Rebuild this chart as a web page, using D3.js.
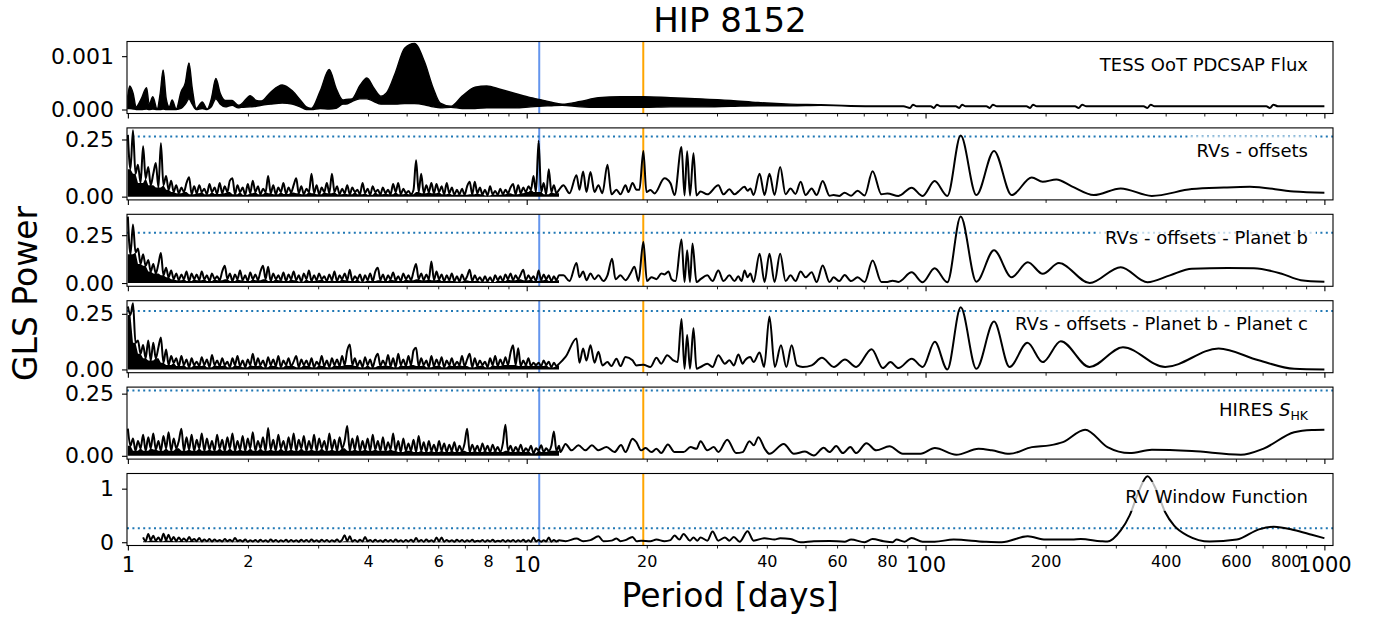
<!DOCTYPE html>
<html><head><meta charset="utf-8">
<script src="https://cdn.jsdelivr.net/npm/d3@7"></script>
<style>body{margin:0;background:#fff;} svg{display:block;font-family:"DejaVu Sans",sans-serif;}</style>
</head><body><svg id="c" width="1377" height="618"></svg>
<script>
// ---------------- DATA ----------------
const titleText = "HIP 8152";
const panelNames = ["TESS OoT PDCSAP Flux","RVs - offsets","RVs - offsets - Planet b","RVs - offsets - Planet b - Planet c","HIRES S_HK","RV Window Function"];
const planetPeriods = [10.75, 19.6];
const fapLevel = 0.263;
const majorTicks = [1,10,100,1000];
const minorTicks = [2,3,4,5,6,7,8,9,20,30,40,50,60,70,80,90,200,300,400,500,600,700,800,900];
const minorLabelled = [2,4,6,8,20,40,60,80,200,400,600,800];
const yTickValues = [[0,0.001],[0,0.25],[0,0.25],[0,0.25],[0,0.25],[0,1]];
const yTickLabels = [["0.000","0.001"],["0.00","0.25"],["0.00","0.25"],["0.00","0.25"],["0.00","0.25"],["0","1"]];

// TESS periodogram: dense part as envelope (upper / lower), then tail
const tessPeriods = [1.0,1.0105,1.031,1.049,1.08,1.114,1.131,1.155,1.184,1.205,1.226,1.248,1.27,1.291,1.322,1.359,1.393,1.423,1.45,1.484,1.536,1.581,1.619,1.662,1.705,1.754,1.826,1.892,1.925,2.027,2.098,2.16,2.277,2.437,2.584,2.705,2.8,2.883,3.037,3.198,3.327,3.462,3.522,3.646,3.818,3.975,4.14,4.31,4.45,4.69,4.94,5.23,5.54,5.83,6.07,6.46,6.89,7.42,7.94,8.57,9.35,10.24,10.74,11.45,12.28,13.62,15.13,17.18,19.62,22.94,27.28,32.5,38.0,45.87,54.6,65.0];
const tessUpper = [.00025,.00044,.0003,.00005,.0002,.00041,.0001,.00024,.00001,.0003,.00074,.0002,.00005,.00018,.00001,.00033,.0005,.000875,.0004,.00002,.00014,.00001,.0002,.00058,.0003,.00017,.00017,.00008,.0001,.00026,.00017,.00016,.00032,.00046,.00035,.00018,.00005,.00002,.00035,.00075,.0004,.00018,.00019,.0002,.00045,.00059,.0004,.00025,.00031,.0007,.00115,.00124,.0009,.0004,.00012,.00006,.00025,.00042,.00044,.00038,.0003,.00022,.00019,.00014,.0001,.00015,.00022,.00024,.00024,.00022,.0002,.00017,.00013,.0001,.00009,.00007];
const tessLower = [.00002,.00002,.00001,0,0,.00001,0,.00001,0,0,.00001,0,0,0,0,.00002,.0001,.0002,.0001,0,.00002,0,.00005,.0002,.0001,.00005,.00008,.00003,.00004,.00005,.00006,.00008,.0001,.00012,.0001,.00005,0,0,.00002,.00001,.00002,.0001,.0001,.00015,.0002,.0002,.00015,.0001,.0001,.0001,.00011,.00011,.00009,.00005,.00003,.00004,.00002,.00002,.00003,.00003,.00003,.00005,.00006,.00007,.00008,.00005,.00004,.00004,.00004,.00005,.00005,.00006,.00007,.00007,.00008,.00006];
const tessTail = [[65,.000065],[75,.00006],[88,.00006],[91.5,.00003],[93,.00009],[95,.00006],[103,.00006],[105,.00003],[106.8,.00009],[109,.00006],[119,.00006],[121.5,.00003],[123.5,.00009],[126,.00006],[142,.00006],[145,.00003],[147.5,.00009],[151,.00006],[179,.00006],[183,.00003],[186,.00009],[190,.00006],[237,.00006],[242,.00003],[247,.00009],[253,.00006],[352,.00006],[360,.00003],[367,.00009],[375,.00006],[715,.00006],[730,.00003],[745,.00009],[765,.00006],[1000,.00006]];

// shared period grid for the dense (short-period) part of the GLS periodograms
const noisePeriods = [1.00,1.015,1.03,1.045,1.06,1.076,1.092,1.108,1.125,1.141,
1.158,1.175,1.193,1.21,1.228,1.247,1.265,1.284,1.303,1.322,
1.342,1.362,1.382,1.403,1.424,1.445,1.466,1.488,1.51,1.532,
1.555,1.578,1.602,1.625,1.65,1.674,1.699,1.724,1.75,1.776,
1.802,1.829,1.856,1.883,1.911,1.94,1.969,1.998,2.027,2.057,
2.088,2.119,2.15,2.182,2.215,2.247,2.281,2.315,2.349,2.384,
2.419,2.455,2.492,2.529,2.566,2.604,2.643,2.682,2.722,2.762,
2.803,2.845,2.887,2.93,2.973,3.017,3.062,3.108,3.154,3.2,
3.248,3.296,3.345,3.395,3.445,3.496,3.548,3.601,3.654,3.708,
3.763,3.819,3.876,3.933,3.992,4.051,4.111,4.172,4.234,4.297,
4.36,4.425,4.491,4.557,4.625,4.693,4.763,4.834,4.905,4.978,
5.052,5.127,5.203,5.28,5.359,5.438,5.519,5.601,5.684,5.768,
5.854,5.941,6.029,6.118,6.209,6.301,6.395,6.49,6.586,6.684,
6.783,6.884,6.986,7.09,7.195,7.302,7.41,7.52,7.632,7.745,
7.86,7.977,8.095,8.215,8.337,8.461,8.587,8.714,8.844,8.975,
9.108,9.243,9.38,9.52,9.661,9.804,9.95,10.1,10.25,10.4,
10.55,10.71,10.87,11.03,11.19,11.36,11.53,11.7,11.87,12.05];

// RVs - offsets
const rvNoise = [.27,.12,.29,.10,.14,.06,.22,.08,.13,.05,
.10,.147,.04,.234,.05,.09,.03,.07,.02,.05,
.015,.04,.02,.06,.085,.01,.045,.015,.05,.02,
.035,.01,.055,.02,.04,.012,.06,.015,.045,.02,
.07,.08,.01,.05,.02,.04,.008,.055,.015,.07,
.02,.045,.01,.035,.02,.09,.015,.05,.01,.04,
.02,.06,.012,.04,.018,.05,.08,.015,.045,.01,
.035,.02,.10,.015,.05,.01,.04,.02,.06,.015,
.10,.02,.045,.01,.035,.015,.05,.01,.04,.02,
.03,.01,.06,.015,.035,.008,.045,.02,.03,.01,
.04,.015,.03,.01,.055,.02,.06,.01,.035,.015,
.025,.01,.03,.159,.02,.10,.015,.05,.02,.06,
.015,.055,.02,.045,.01,.06,.015,.04,.008,.03,
.01,.035,.008,.045,.065,.01,.065,.015,.04,.01,
.03,.005,.045,.01,.025,.008,.035,.01,.03,.015,
.04,.055,.01,.05,.015,.04,.02,.045,.03,.09,
.02,.245,.02,.06,.01,.12,.02,.05,.015,.03];
const rvTail = [[12.36,.05],[12.8,.015],[13.33,.094],[13.56,.03],[13.85,.11],[14.12,.02],[14.45,.108],[14.79,.02],[15.13,.05],[15.48,.015],[15.94,.14],[16.31,.01],[16.79,.03],[17.18,.01],[17.69,.05],[17.99,.02],[18.42,.06],[18.85,.03],[19.17,.03],[19.61,.20],[19.96,.02],[20.43,.029],[20.91,.014],[22.15,.08],[22.94,.058],[23.48,.007],[24.44,.217],[24.87,.005],[25.25,.198],[25.67,.005],[26.19,.19],[26.65,.005],[27.28,.022],[28.36,.01],[30.23,.05],[31.15,.01],[32.22,.032],[33.19,.01],[33.93,.022],[35.17,.043],[35.79,.026],[36.37,.036],[37.05,.007],[38.36,.10],[39.48,.007],[40.61,.10],[41.82,.007],[43.2,.13],[44.57,.01],[45.87,.036],[47.21,.012],[48.62,.065],[50.04,.007],[51.81,.036],[53.33,.007],[55.21,.068],[57.45,.004],[58.79,.007],[60.78,.003],[62.67,.017],[65.07,.004],[67.56,.026],[70.34,.005],[73.66,.111],[77.5,.01],[80.19,.014],[85.51,.003],[92.28,.039],[98.33,.003],[105.4,.068],[113.4,.003],[122.5,.267],[134.1,.007],[148.5,.20],[164.4,.007],[184.6,.084],[196.7,.065],[212.8,.075],[232.6,.045],[264.1,.007],[308.6,.036],[369.2,.003],[465.2,.033],[560,.04],[650.4,.043],[838.6,.022],[1000,.017]];

// RVs - offsets - Planet b
const rvbNoise = [.347,.15,.306,.16,.18,.10,.15,.09,.12,.06,
.10,.05,.10,.157,.04,.08,.03,.065,.02,.05,
.015,.045,.02,.06,.01,.05,.02,.045,.015,.06,
.02,.04,.01,.05,.02,.035,.015,.06,.09,.02,
.05,.01,.045,.02,.065,.015,.04,.01,.055,.02,
.045,.015,.06,.09,.02,.085,.01,.05,.02,.04,
.015,.055,.01,.045,.02,.06,.015,.04,.008,.05,
.02,.065,.01,.04,.015,.05,.02,.035,.01,.045,
.015,.06,.01,.04,.02,.05,.015,.07,.01,.035,
.02,.045,.008,.04,.015,.05,.01,.06,.08,.015,
.045,.01,.04,.02,.055,.015,.035,.01,.05,.02,
.04,.015,.06,.10,.02,.05,.015,.045,.02,.113,
.015,.06,.02,.045,.01,.04,.015,.05,.01,.035,
.008,.045,.015,.035,.07,.01,.04,.015,.03,.008,
.035,.01,.03,.005,.04,.015,.035,.01,.045,.02,
.05,.015,.04,.02,.045,.07,.015,.04,.02,.035,
.01,.065,.015,.045,.02,.04,.01,.035,.015,.04];
const rvbTail = [[12.36,.04],[12.8,.01],[13.33,.104],[13.56,.03],[13.85,.06],[14.12,.015],[14.45,.05],[14.79,.02],[15.13,.04],[15.57,.01],[15.94,.04],[16.37,.127],[16.69,.02],[17.18,.04],[17.69,.015],[18.2,.05],[18.63,.085],[19.06,.01],[19.61,.215],[20.02,.01],[20.55,.03],[21.15,.02],[21.77,.05],[22.15,.045],[22.67,.06],[23.07,.02],[23.61,.01],[24.44,.227],[24.87,.005],[25.25,.171],[25.67,.005],[26.04,.206],[26.65,.005],[27.28,.02],[28.36,.04],[29.24,.01],[30.23,.065],[31.15,.01],[32.22,.04],[33.19,.01],[33.93,.035],[34.57,.01],[35.17,.065],[35.79,.03],[36.37,.05],[37.05,.005],[38.36,.153],[39.48,.005],[40.61,.153],[41.82,.005],[43.2,.153],[44.57,.01],[45.87,.04],[47.21,.01],[48.62,.06],[50.04,.03],[51.81,.056],[53.33,.005],[55.21,.092],[57.45,.005],[58.79,.03],[60.78,.01],[62.67,.042],[65.07,.01],[67.56,.03],[70.34,.005],[73.66,.118],[77.5,.006],[80.19,.006],[82.7,.012],[85.51,.006],[92.28,.056],[98.33,.004],[105.4,.077],[113.4,.004],[122.5,.347],[134.1,.007],[148.5,.171],[164.4,.03],[180.4,.109],[196.7,.048],[216,.104],[258,.0],[308.6,.083],[360,.004],[410,.04],[465.2,.075],[572,.078],[665.6,.077],[778,.05],[873,.015],[1000,.007]];

// RVs - offsets - Planet b - Planet c
const rvbcNoise = [.283,.245,.298,.12,.13,.07,.11,.05,.13,.04,
.12,.05,.10,.144,.03,.09,.02,.06,.03,.05,
.015,.06,.02,.045,.01,.05,.02,.035,.015,.055,
.02,.045,.01,.065,.02,.04,.015,.05,.02,.035,
.01,.05,.02,.06,.015,.04,.01,.045,.02,.07,
.015,.05,.02,.04,.01,.055,.02,.045,.015,.06,
.01,.04,.02,.05,.015,.035,.06,.01,.045,.02,
.04,.015,.05,.01,.035,.02,.06,.015,.04,.01,
.05,.02,.045,.015,.06,.02,.085,.112,.02,.05,
.015,.04,.01,.055,.02,.045,.01,.05,.07,.015,
.04,.02,.065,.015,.05,.01,.07,.02,.045,.015,
.06,.02,.085,.098,.015,.05,.02,.04,.01,.06,
.015,.045,.02,.055,.01,.04,.02,.05,.015,.035,
.02,.06,.015,.045,.07,.01,.05,.015,.04,.02,
.035,.01,.05,.02,.06,.015,.045,.02,.055,.02,
.075,.109,.02,.095,.015,.04,.02,.05,.015,.03,
.02,.03,.015,.04,.02,.035,.01,.03,.015,.025];
const rvbcTail = [[12.51,.056],[13.33,.139],[13.56,.03],[13.85,.094],[14.12,.04],[14.45,.109],[14.79,.03],[15.13,.079],[15.48,.018],[15.94,.033],[16.31,.015],[16.79,.048],[17.18,.015],[17.69,.056],[18.42,.041],[18.85,.018],[19.61,.021],[20.43,.011],[21.15,.052],[21.74,.026],[22.5,.064],[23.3,.041],[23.9,.033],[24.44,.227],[24.87,.003],[25.25,.155],[25.67,.003],[26.19,.185],[26.65,.003],[27.28,.011],[28.36,.026],[29.24,.011],[30.23,.064],[31.4,.026],[32.22,.041],[33.06,.018],[33.93,.067],[34.8,.026],[35.25,.041],[36.37,.056],[37.05,.033],[38.36,.076],[39.38,.011],[40.61,.238],[41.88,.011],[43.4,.109],[44.77,.011],[46.16,.109],[47.6,.018],[49.22,.011],[51.83,.018],[54.96,.052],[58.9,.011],[62.8,.045],[67,.011],[73.28,.091],[78.15,.006],[81.65,.033],[85.5,.006],[92.35,.048],[98.4,.011],[105.5,.124],[113.4,.0],[122.5,.279],[134.1,.003],[148.5,.215],[162.4,.011],[180.1,.12],[196.7,.033],[218.3,.127],[257.8,.011],[312.6,.10],[398.9,.011],[543,.094],[684.3,.041],[840,.003],[1000,.0]];

// HIRES S_HK
const shkNoise = [.109,.04,.07,.02,.06,.03,.085,.02,.075,.03,
.09,.025,.06,.02,.08,.03,.095,.02,.07,.03,
.06,.109,.02,.075,.025,.085,.02,.065,.03,.09,
.02,.07,.025,.06,.02,.085,.03,.065,.02,.075,
.03,.09,.02,.06,.025,.08,.02,.07,.03,.095,
.02,.06,.03,.075,.02,.112,.025,.065,.02,.085,
.03,.06,.02,.075,.025,.09,.02,.065,.03,.08,
.02,.06,.025,.085,.02,.07,.03,.06,.02,.09,
.025,.065,.02,.075,.03,.06,.12,.02,.07,.025,
.08,.02,.06,.025,.07,.02,.085,.025,.06,.02,
.075,.02,.055,.025,.09,.02,.06,.015,.07,.02,
.05,.02,.065,.015,.08,.02,.055,.015,.06,.02,
.045,.015,.06,.02,.05,.015,.045,.02,.055,.015,
.04,.02,.05,.109,.015,.045,.02,.04,.015,.05,
.02,.04,.015,.045,.02,.035,.015,.05,.125,.02,
.04,.015,.035,.02,.045,.015,.03,.02,.04,.01,
.03,.022,.042,.015,.03,.02,.04,.098,.02,.04];
const shkTail = [[12.15,.015],[12.51,.048],[12.95,.022],[13.48,.042],[14.04,.022],[14.57,.042],[15.13,.022],[15.85,.035],[16.6,.015],[17.24,.043],[17.69,.015],[18.42,.069],[18.85,.054],[19.36,.022],[19.86,.031],[20.55,.015],[21.15,.028],[21.74,.011],[22.59,.046],[23.48,.015],[24.73,.015],[25.75,.035],[26.65,.028],[27.28,.059],[28.36,.022],[29.45,.035],[30.23,.015],[31.83,.065],[33.5,.011],[34.8,.015],[36.18,.059],[37.11,.042],[38.09,.075],[39.57,.027],[40.61,.008],[44.09,.048],[46.76,.008],[49.86,.017],[52.48,.001],[55.54,.032],[57.43,.015],[59.7,.039],[62.02,.011],[64.79,.035],[67,.011],[71.1,.051],[75.2,.022],[81.2,.038],[87.7,.008],[97.2,.008],[105.5,.031],[119.4,.004],[135.8,.028],[146.6,.022],[162.4,.008],[184.7,.035],[204.7,.042],[221,.055],[251.3,.105],[285.8,.035],[324.9,.011],[369.4,.024],[465.4,.019],[617.4,.004],[702,.028],[840,.095],[930,.104],[1000,.105]];

// RV window function
const winNoise = [null,null,null,null,null,null,.09,.02,.156,.04,
.12,.03,.09,.02,.16,.04,.14,.03,.1,.02,
.09,.03,.07,.02,.1,.03,.06,.02,.08,.015,
.05,.02,.06,.015,.05,.02,.04,.015,.06,.02,
.045,.015,.08,.02,.04,.015,.05,.01,.035,.015,
.04,.01,.045,.015,.035,.01,.05,.015,.04,.01,
.035,.015,.045,.01,.04,.015,.035,.01,.045,.015,
.04,.01,.05,.015,.035,.01,.045,.015,.04,.01,
.035,.015,.05,.01,.045,.13,.02,.11,.015,.04,
.01,.045,.015,.1,.02,.04,.01,.045,.015,.035,
.01,.045,.015,.04,.01,.05,.015,.035,.01,.04,
.015,.045,.01,.08,.015,.04,.01,.05,.015,.035,
.01,.09,.015,.09,.01,.04,.015,.035,.01,.045,
.015,.04,.01,.035,.015,.045,.01,.03,.015,.04,
.01,.035,.015,.045,.01,.03,.015,.04,.01,.035,
.015,.04,.01,.035,.015,.045,.01,.035,.01,.09,
.015,.04,.01,.035,.015,.09,.01,.04,.015,.035];
const winTail = [[12.51,.02],[13.33,.07],[13.85,.02],[14.45,.04],[15.13,.11],[15.57,.02],[16.31,.03],[16.79,.07],[17.18,.02],[17.69,.04],[18.42,.10],[18.85,.02],[19.36,.03],[20.43,.02],[21.15,.05],[22.15,.02],[22.94,.04],[23.48,.125],[24.15,.05],[24.73,.156],[25.67,.03],[26.19,.09],[26.8,.03],[27.28,.09],[28.36,.03],[29.24,.2],[30.23,.03],[31.4,.09],[32.22,.03],[33.06,.1],[34.2,.01],[35.79,.206],[37.05,.03],[39.48,.075],[41.82,.05],[43.2,.075],[45.87,.06],[48.62,.0],[52.48,.02],[57.45,.025],[62.67,.01],[65.07,.05],[70.34,.0],[73.66,.06],[78.5,.02],[82.68,.0],[84.5,.05],[88.63,.01],[92.28,.08],[98.33,.01],[105.4,.01],[117.6,.05],[140.7,.01],[155.2,.0],[180.4,.11],[200,.05],[233,.05],[245,.06],[275,.02],[285.8,.013],[308.6,.22],[324.9,.5],[342,.94],[360.1,1.23],[379.2,.97],[398.9,.56],[420.1,.31],[453.8,.125],[515.8,.013],[603.3,.05],[685.1,.24],[746.9,.29],[838.6,.23],[930,.14],[1000,.075]];

// ---------------- DRAWING ----------------
const W = 1377, H = 618;
const left = 127, right = 1333;
const PT = 41.5, PH = 72, PS = 86.4;
const yDomains = [[-0.000075,0.001275],[-0.0143,0.3007],[-0.0171,0.359],[-0.0147,0.309],[-0.0132,0.2763],[-0.061,1.283]];
const planetColors = ["#6495ED","#FFA500"];

function noisePts(noise){
  const pts = [];
  noise.forEach((v,i)=>{ if(v!==null && i<noisePeriods.length) pts.push([noisePeriods[i], v]); });
  return pts;
}
const noiseSets = [null, rvNoise, rvbNoise, rvbcNoise, shkNoise, winNoise].map(n=> n ? noisePts(n) : null);
const tails = [null, rvTail, rvbTail, rvbcTail, shkTail, winTail];

const svg = d3.select('#c');
svg.append('rect').attr('width',W).attr('height',H).attr('fill','#fff');
const x = d3.scaleLog().domain([0.995,1051]).range([left,right]);
const defs = svg.append('defs');

panelNames.forEach((name,k)=>{
  const top = PT + k*PS, bot = top + PH;
  const y = d3.scaleLinear().domain(yDomains[k]).range([bot, top]);
  defs.append('clipPath').attr('id','clip'+k).append('rect')
    .attr('x',left).attr('y',top).attr('width',right-left).attr('height',PH);
  const g = svg.append('g');
  const pg = g.append('g').attr('clip-path',`url(#clip${k})`);

  planetPeriods.forEach((pp,j)=>{
    pg.append('line').attr('x1',x(pp)).attr('x2',x(pp)).attr('y1',top).attr('y2',bot)
      .attr('stroke',planetColors[j]).attr('stroke-width',2);
  });
  if(k>0){
    pg.append('line').attr('x1',left).attr('x2',right).attr('y1',y(fapLevel)).attr('y2',y(fapLevel))
      .attr('stroke','#1f77b4').attr('stroke-width',2).attr('stroke-dasharray','2,3.4');
  }
  const line = d3.line().x(d=>x(d[0])).y(d=>y(d[1])).curve(d3.curveMonotoneX);
  if(k===0){
    const env = tessPeriods.map((p,i)=>({p:p, up:tessUpper[i], lo:tessLower[i]}));
    const area = d3.area().x(d=>x(d.p)).y0(d=>y(d.lo)).y1(d=>y(d.up)).curve(d3.curveMonotoneX);
    pg.append('path').attr('d',area(env)).attr('fill','#000').attr('stroke','#000').attr('stroke-width',1.4);
    pg.append('path').attr('d',line(tessTail)).attr('fill','none').attr('stroke','#000').attr('stroke-width',2);
  } else {
    const nz = noiseSets[k];
    // unresolved fast oscillations: solid base up to the local minima of the trace
    const base = nz.map((d,i)=>[d[0], Math.min(d[1], (nz[i-1]||d)[1], (nz[i+1]||d)[1])]);
    const nArea = d3.area().x(d=>x(d[0])).y0(y(0)).y1(d=>y(d[1])).curve(d3.curveLinear);
    pg.append('path').attr('d',nArea(base)).attr('fill','#000');
    pg.append('path').attr('d',line(nz.concat(tails[k]))).attr('fill','none').attr('stroke','#000')
      .attr('stroke-width',2).attr('stroke-linejoin','round');
  }

  // label with semi-transparent white box
  const lblG = g.append('g');
  const t = lblG.append('text').attr('x',1308).attr('y',top+23).attr('text-anchor','end')
    .attr('dy','0.35em').attr('font-size',18).attr('fill','#000');
  if(name==="HIRES S_HK"){
    t.append('tspan').text('HIRES ');
    t.append('tspan').attr('font-style','italic').text('S');
    t.append('tspan').attr('font-size',12.5).attr('dy',4).text('HK');
  } else t.text(name);
  const bb = t.node().getBBox();
  lblG.insert('rect','text').attr('x',bb.x-6).attr('y',bb.y-4).attr('width',bb.width+14).attr('height',bb.height+8)
    .attr('fill','#fff').attr('fill-opacity',0.72);

  // y axis
  const ya = g.append('g').attr('transform',`translate(${left},0)`)
    .call(d3.axisLeft(y).tickValues(yTickValues[k]).tickFormat((d,i)=>yTickLabels[k][i]).tickSize(5).tickPadding(8));
  ya.select('.domain').remove();
  ya.selectAll('text').attr('font-size',22).attr('font-family','DejaVu Sans').attr('fill','#000');
  ya.selectAll('line').attr('stroke','#000').attr('stroke-width',1.1);

  // x axis (major / minor)
  const last = k===panelNames.length-1;
  const xa = g.append('g').attr('transform',`translate(0,${bot})`)
    .call(d3.axisBottom(x).tickValues(majorTicks).tickFormat(d=> last ? String(d) : '').tickSize(5).tickPadding(7));
  xa.select('.domain').remove();
  xa.selectAll('text').attr('font-size',21).attr('font-family','DejaVu Sans').attr('fill','#000');
  xa.selectAll('line').attr('stroke','#000').attr('stroke-width',1.1);
  const xm = g.append('g').attr('transform',`translate(0,${bot})`)
    .call(d3.axisBottom(x).tickValues(minorTicks).tickFormat(d=> (last && minorLabelled.includes(d)) ? String(d) : '').tickSize(3).tickPadding(7));
  xm.select('.domain').remove();
  xm.selectAll('text').attr('font-size',16).attr('font-family','DejaVu Sans').attr('fill','#000');
  xm.selectAll('line').attr('stroke','#000').attr('stroke-width',0.9);

  g.append('rect').attr('x',left).attr('y',top).attr('width',right-left).attr('height',PH)
    .attr('fill','none').attr('stroke','#000').attr('stroke-width',1.1);
});

svg.append('text').attr('x',(left+right)/2).attr('y',32).attr('text-anchor','middle').attr('font-size',34).text(titleText);
svg.append('text').attr('x',(left+right)/2).attr('y',607).attr('text-anchor','middle').attr('font-size',33).text('Period [days]');
svg.append('text').attr('transform',`translate(37,${PT+(5*PS+PH)/2}) rotate(-90)`).attr('text-anchor','middle').attr('font-size',33).text('GLS Power');
</script></body></html>
